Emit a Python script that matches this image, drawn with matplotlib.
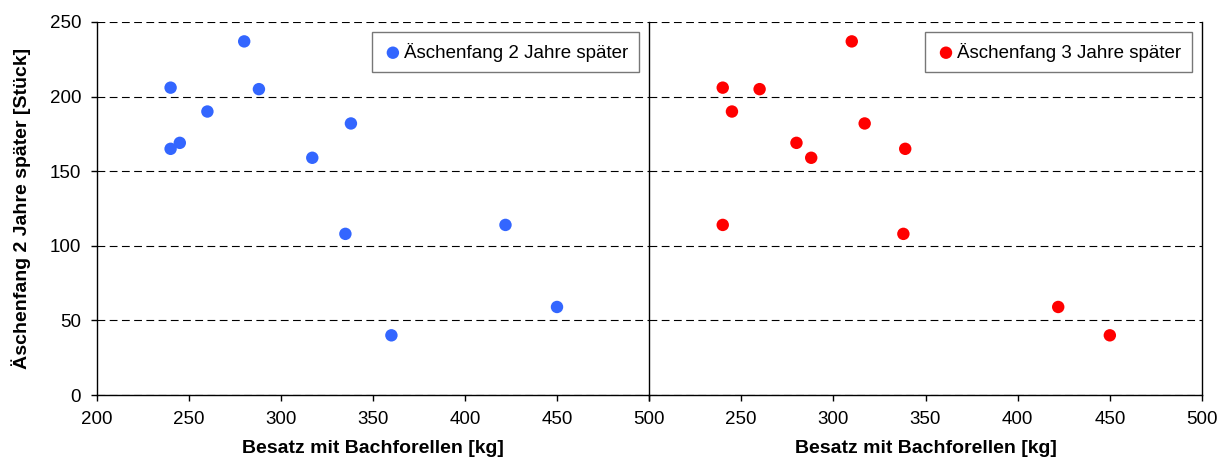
import matplotlib
matplotlib.use('Agg')
import matplotlib.pyplot as plt

# Besatz mit Bachforellen [kg] und Äschenfang [Stück]
BesatzZwei = [240, 240, 245, 260, 280, 288, 317, 338, 335, 360, 422, 450]
FangZwei = [206, 165, 169, 190, 237, 205, 159, 182, 108, 40, 114, 59]

BesatzDrei = [240, 245, 260, 280, 288, 310, 317, 339, 240, 338, 422, 450]
FangDrei = [206, 190, 205, 169, 159, 237, 182, 165, 114, 108, 59, 40]

XTicks = [200, 250, 300, 350, 400, 450, 500]
YTicks = [0, 50, 100, 150, 200, 250]

plt.rcParams['font.family'] = ['Liberation Sans', 'DejaVu Sans']
plt.rcParams['font.size'] = 13.5

fig = plt.figure(figsize=(12.28, 4.68), dpi=100)
AxLeft = fig.add_axes([97/1228, 73/468, 552/1228, 373/468])
AxRight = fig.add_axes([649/1228, 73/468, 553/1228, 373/468])

Series = [
    (AxLeft, BesatzZwei, FangZwei, '#3366FF', 'Äschenfang 2 Jahre später'),
    (AxRight, BesatzDrei, FangDrei, '#FF0000', 'Äschenfang 3 Jahre später'),
]

for ax, x, y, col, lab in Series:
    ax.scatter(x, y, s=80, color=col, edgecolors='none', label=lab, zorder=3)
    ax.set_xlim(200, 500)
    ax.set_ylim(0, 250)
    ax.set_xticks(XTicks)
    ax.set_yticks(YTicks)
    ax.yaxis.grid(True, color='black', linestyle=(0, (7, 4)), linewidth=0.8)
    ax.set_axisbelow(True)
    ax.spines['top'].set_visible(False)
    for s in ax.spines.values():
        s.set_linewidth(1.0)
    ax.tick_params(direction='out', length=4.5, width=1.0, pad=7, labelsize=13.5)
    ax.set_xlabel('Besatz mit Bachforellen [kg]', fontsize=14, weight='bold', labelpad=9)
    leg = ax.legend(loc='upper right', scatterpoints=1, fancybox=False, frameon=True,
                    fontsize=13.5, handletextpad=0.05, borderpad=0.55, borderaxespad=0.55,
                    handlelength=1.1)
    leg.get_frame().set_edgecolor('#555555')
    leg.get_frame().set_linewidth(1.0)

AxLeft.spines['right'].set_visible(False)
AxLeft.set_ylabel('Äschenfang 2 Jahre später [Stück]', fontsize=14, weight='bold', labelpad=13)

AxRight.tick_params(axis='y', left=False, labelleft=False)
AxRight.set_xticks(XTicks, [''] + [str(t) for t in XTicks[1:]])

fig.savefig('out.png', dpi=100)
